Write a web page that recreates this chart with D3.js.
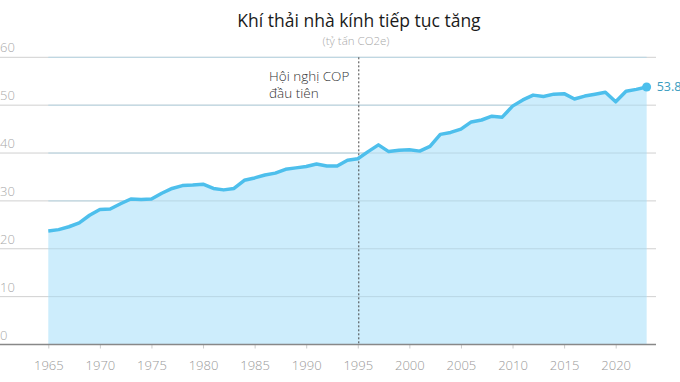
<!DOCTYPE html>
<html>
<head>
<meta charset="utf-8">
<script src="https://cdn.jsdelivr.net/npm/d3@7"></script>
<style>
  body { margin: 0; background: #fff; }
  text { font-family: "Open Sans", "Noto Sans", sans-serif; }
</style>
</head>
<body>
<svg id="chart" width="680" height="382"></svg>
<script>
const years = d3.range(1965, 2024);
const emissions = [
  23.7, 24.0, 24.6, 25.4, 27.0, 28.2, 28.3, 29.4, 30.4, 30.3,
  30.4, 31.6, 32.6, 33.2, 33.3, 33.5, 32.6, 32.3, 32.6, 34.3,
  34.8, 35.4, 35.8, 36.6, 36.9, 37.2, 37.7, 37.3, 37.3, 38.5,
  38.8, 40.3, 41.7, 40.3, 40.6, 40.7, 40.4, 41.4, 43.9, 44.3,
  45.0, 46.5, 46.9, 47.7, 47.5, 49.8, 51.1, 52.1, 51.8, 52.3,
  52.4, 51.3, 51.9, 52.3, 52.7, 50.7, 52.9, 53.3, 53.8
];
const yTicks = [0, 10, 20, 30, 40, 50, 60];
const xTicks = d3.range(1965, 2021, 5);
const copYear = 1995;
const title = 'Khí thải nhà kính tiếp tục tăng';
const subtitle = '(tỷ tấn CO2e)';
const copLabel = ['Hội nghị COP', 'đầu tiên'];

const data = years.map((y, i) => ({ year: y, value: emissions[i] }));

const svg = d3.select('#chart');

// plot bounds
const x = d3.scaleLinear().domain([1965, 2020]).range([48.3, 615.7]);
const y = d3.scaleLinear().domain([0, 60]).range([344.5, 57.3]);
const gridRight = 656;

svg.append('text')
  .attr('x', 359).attr('y', 27)
  .attr('text-anchor', 'middle')
  .attr('font-size', 17.5)
  .attr('font-weight', 500)
  .attr('fill', '#1a1a1a')
  .text(title);

svg.append('text')
  .attr('x', 356).attr('y', 45)
  .attr('text-anchor', 'middle')
  .attr('font-size', 11.5)
  .attr('font-weight', 300)
  .attr('fill', '#aaa')
  .text(subtitle);

// gridlines + y labels
const grid = svg.append('g');
grid.selectAll('line')
  .data(yTicks.filter(d => d > 0))
  .join('line')
  .attr('x1', 0).attr('x2', gridRight)
  .attr('y1', d => y(d)).attr('y2', d => y(d))
  .attr('stroke', '#d0d0d0')
  .attr('stroke-width', 1);

grid.selectAll('text')
  .data(yTicks)
  .join('text')
  .attr('x', 0)
  .attr('y', d => y(d) - 5)
  .attr('font-size', 13)
  .attr('font-weight', 300)
  .attr('fill', '#aaa')
  .text(d => d);

// area + line
const area = d3.area()
  .x(d => x(d.year))
  .y0(y(0))
  .y1(d => y(d.value));

const line = d3.line()
  .x(d => x(d.year))
  .y(d => y(d.value));

svg.append('path')
  .datum(data)
  .attr('d', area)
  .attr('fill', '#cdedfc');

// gridlines show faintly through the fill
svg.append('g').selectAll('line')
  .data(yTicks.filter(d => d > 0))
  .join('line')
  .attr('x1', x(1965)).attr('x2', x(2023))
  .attr('y1', d => y(d)).attr('y2', d => y(d))
  .attr('stroke', '#b8d6e4')
  .attr('stroke-width', 1);

// COP marker
svg.append('line')
  .attr('x1', x(copYear) + 1).attr('x2', x(copYear) + 1)
  .attr('y1', y(60)).attr('y2', y(0))
  .attr('stroke', '#444')
  .attr('stroke-width', 1)
  .attr('stroke-dasharray', '2,2');

svg.selectAll('.cop-label')
  .data(copLabel)
  .join('text')
  .attr('class', 'cop-label')
  .attr('x', 269)
  .attr('y', (d, i) => 81 + i * 17)
  .attr('font-size', 13.5)
  .attr('font-weight', 300)
  .attr('fill', '#333')
  .text(d => d);

svg.append('path')
  .datum(data)
  .attr('d', line)
  .attr('fill', 'none')
  .attr('stroke', '#4dbfec')
  .attr('stroke-width', 3.5)
  .attr('stroke-linejoin', 'round');

const last = data[data.length - 1];
svg.append('circle')
  .attr('cx', x(last.year)).attr('cy', y(last.value))
  .attr('r', 4.5)
  .attr('fill', '#4dbfec');

svg.append('text')
  .attr('x', x(last.year) + 10).attr('y', y(last.value) + 4.5)
  .attr('font-size', 12.5)
  .attr('fill', '#3a9cc0')
  .text(last.value);

// x axis
const xAxis = svg.append('g')
  .attr('transform', `translate(0,${y(0)})`)
  .call(d3.axisBottom(x).tickValues(xTicks).tickFormat(d3.format('d')).tickSize(4).tickPadding(12));
xAxis.select('.domain').remove();
xAxis.selectAll('.tick line').attr('stroke', '#ccc');
xAxis.selectAll('.tick text')
  .attr('font-family', '"Open Sans", sans-serif')
  .attr('font-size', 13)
  .attr('font-weight', 300)
  .attr('fill', '#999');
xAxis.append('line')
  .attr('x1', 0).attr('x2', gridRight)
  .attr('stroke', '#888')
  .attr('stroke-width', 1.5);
</script>
</body>
</html>
